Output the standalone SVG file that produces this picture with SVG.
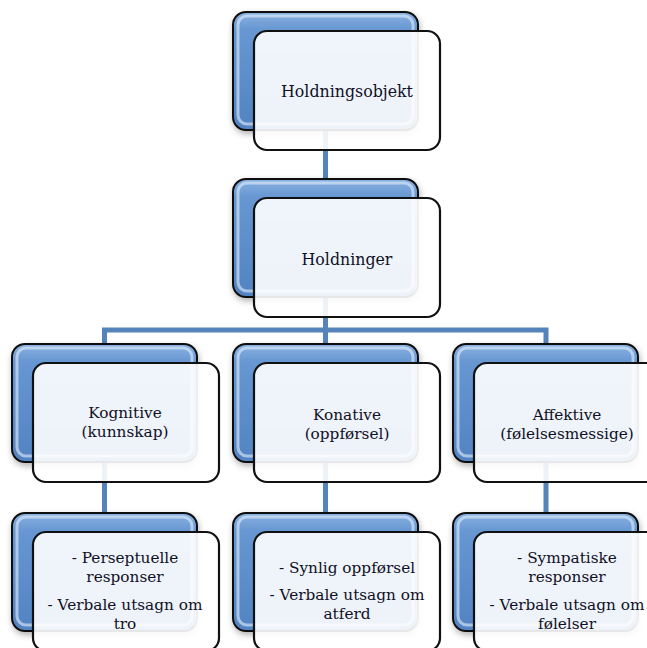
<svg xmlns="http://www.w3.org/2000/svg" width="647" height="648" viewBox="0 0 647 648">
<defs>
<linearGradient id="blue" x1="0" y1="0" x2="0" y2="1">
<stop offset="0" stop-color="#8ab2e2"/>
<stop offset="0.15" stop-color="#6797d2"/>
<stop offset="1" stop-color="#5283c2"/>
</linearGradient>
<linearGradient id="gloss" x1="0" y1="0" x2="1" y2="0">
<stop offset="0" stop-color="#ffffff" stop-opacity="0"/>
<stop offset="0.85" stop-color="#ffffff" stop-opacity="0"/>
<stop offset="0.93" stop-color="#ffffff" stop-opacity="0.6"/>
<stop offset="1" stop-color="#ffffff" stop-opacity="0"/>
</linearGradient>
<filter id="sh" x="-10%" y="-10%" width="130%" height="130%">
<feDropShadow dx="1" dy="3" stdDeviation="3" flood-color="#000" flood-opacity="0.3"/>
</filter>
<g id="pair">
<rect class="back" x="0" y="0" width="185" height="118" rx="13"/>
<rect class="bevel" x="5" y="4" width="175" height="108" rx="9"/>
<rect class="front" x="21" y="19" width="186" height="119" rx="13"/>
<rect class="fgloss" x="23" y="21" width="182" height="115" rx="11"/>
</g>
</defs>
<style>
.back{fill:url(#blue);stroke:#111;stroke-width:2;filter:url(#sh)}
.bevel{fill:none;stroke:#e3eefa;stroke-opacity:0.6;stroke-width:3}
.front{fill:#ffffff;fill-opacity:0.9;stroke:#111;stroke-width:2.2}
.fgloss{fill:url(#gloss);stroke:none}
.conn{fill:none;stroke:#5584bb;stroke-width:5}
text{font-family:"DejaVu Serif","Liberation Serif",serif;font-size:15.3px;fill:#101025;text-anchor:middle}
text.h{font-size:15.8px}
</style>
<rect width="647" height="648" fill="#ffffff"/>
<g id="connectors">
<path class="conn" d="M325.5 70 V330"/>
<path class="conn" d="M104.5 330 H546 M104.5 327.5 V520 M325.5 327.5 V520 M546 327.5 V520"/>
</g>
<g id="n-holdningsobjekt">
<use href="#pair" x="233" y="12"/>
<text class="h" x="347" y="97">Holdningsobjekt</text>
</g>
<g id="n-holdninger">
<use href="#pair" x="233" y="179"/>
<text class="h" x="347" y="265">Holdninger</text>
</g>
<g id="n-kognitive">
<use href="#pair" x="12" y="344"/>
<text x="125" y="418">Kognitive</text>
<text x="125" y="436.5">(kunnskap)</text>
</g>
<g id="n-konative">
<use href="#pair" x="233" y="344"/>
<text x="347" y="420">Konative</text>
<text x="347" y="438.5">(oppførsel)</text>
</g>
<g id="n-affektive">
<use href="#pair" x="453" y="344"/>
<text x="567" y="420">Affektive</text>
<text x="567" y="438.5">(følelsesmessige)</text>
</g>
<g id="n-kognitive-detalj">
<use href="#pair" x="12" y="513"/>
<text x="125" y="563">- Perseptuelle</text>
<text x="125" y="581.5">responser</text>
<text x="125" y="610">- Verbale utsagn om</text>
<text x="125" y="628.5">tro</text>
</g>
<g id="n-konative-detalj">
<use href="#pair" x="233" y="513"/>
<text x="347" y="573">- Synlig oppførsel</text>
<text x="347" y="600">- Verbale utsagn om</text>
<text x="347" y="618.5">atferd</text>
</g>
<g id="n-affektive-detalj">
<use href="#pair" x="453" y="513"/>
<text x="567" y="563">- Sympatiske</text>
<text x="567" y="581.5">responser</text>
<text x="567" y="610">- Verbale utsagn om</text>
<text x="567" y="628.5">følelser</text>
</g>
</svg>
